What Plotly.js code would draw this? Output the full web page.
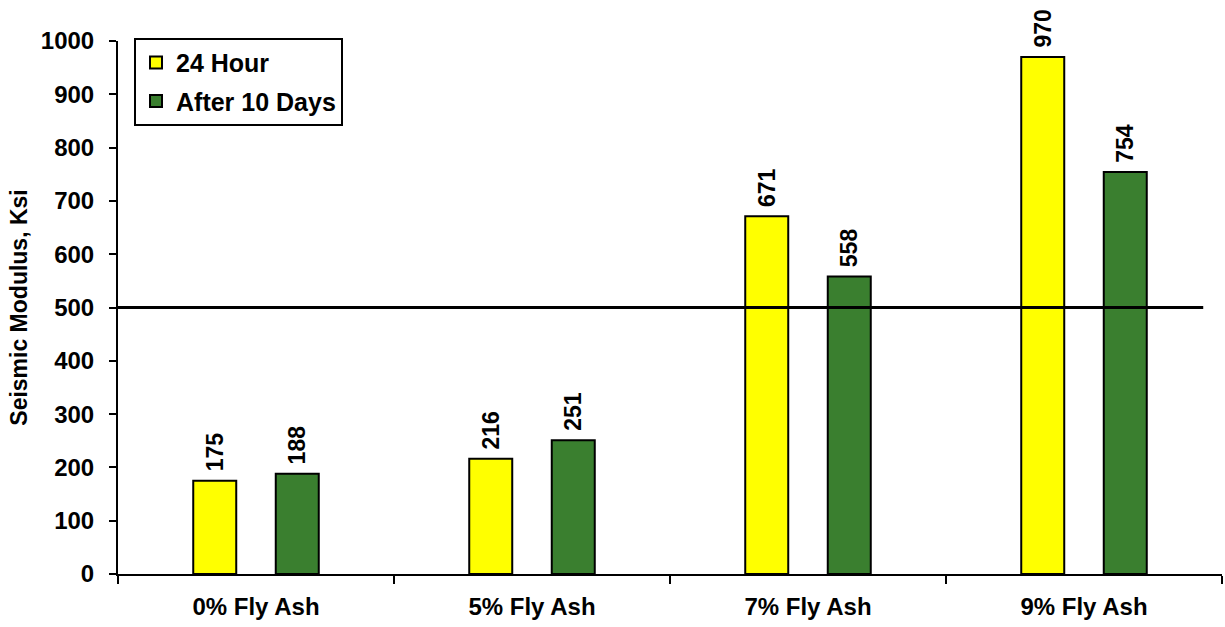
<!DOCTYPE html>
<html>
<head>
<meta charset="utf-8">
<script src="https://cdn.plot.ly/plotly-3.0.1.min.js"></script>
<style>
  html, body { margin: 0; padding: 0; background: #fff; }
  #chart { width: 1225px; height: 627px; }
</style>
</head>
<body>
<div id="chart"></div>
<script>
// Seismic modulus by fly ash content
const categories = ['0% Fly Ash', '5% Fly Ash', '7% Fly Ash', '9% Fly Ash'];
const hour24 = [175, 216, 671, 970];
const days10 = [188, 251, 558, 754];
const seriesNames = ['24 Hour', 'After 10 Days'];
const yTicks = [0, 100, 200, 300, 400, 500, 600, 700, 800, 900, 1000];
const thresholdKsi = 500;

const FONT = 'Liberation Sans, Arial, sans-serif';

function barTrace(name, values, color, group) {
  return {
    type: 'bar',
    name: name,
    x: categories,
    y: values,
    legendgroup: group,
    marker: { color: color, line: { color: '#000', width: 2 } },
    // leading no-break space keeps the value clear of the bar top
    text: values.map(v => '\u00a0' + v),
    textposition: 'outside',
    textangle: -90,
    constraintext: 'none',
    cliponaxis: false,
    textfont: { family: FONT, size: 23, color: '#000', weight: 'bold' },
    hoverinfo: 'x+y'
  };
}

const data = [
  barTrace(seriesNames[0], hour24, '#FFFF00', 'a'),
  barTrace(seriesNames[1], days10, '#3A7F2F', 'b')
];

const layout = {
  width: 1225,
  height: 627,
  margin: { l: 118, r: 3, t: 41, b: 53 },
  paper_bgcolor: '#fff',
  plot_bgcolor: '#fff',
  font: { family: FONT, color: '#000', size: 23, weight: 'bold' },
  barmode: 'group',
  bargap: 0.402,
  bargroupgap: 0.479,
  showlegend: true,
  legend: {
    x: 0.0145, y: 1.006, xanchor: 'left', yanchor: 'top',
    bgcolor: '#fff', bordercolor: '#000', borderwidth: 2,
    font: { family: FONT, size: 25, color: '#000', weight: 'bold' },
    traceorder: 'grouped',
    tracegroupgap: 3,
    itemwidth: 30
  },
  xaxis: {
    type: 'category',
    showline: true, linecolor: '#000', linewidth: 2,
    ticks: 'outside', tickson: 'boundaries', ticklen: 8, tickwidth: 2, tickcolor: '#000',
    ticklabelstandoff: 10,
    showgrid: false, zeroline: false,
    tickfont: { family: FONT, size: 24, color: '#000', weight: 'bold' }
  },
  yaxis: {
    range: [0, 1000],
    tickvals: yTicks,
    ticktext: yTicks.map(String),
    showline: true, linecolor: '#000', linewidth: 2,
    ticks: 'outside', ticklen: 7, tickwidth: 2, tickcolor: '#000',
    ticklabelstandoff: 10,
    showgrid: false, zeroline: false,
    tickfont: { family: FONT, size: 24, color: '#000', weight: 'bold' },
    title: { text: 'Seismic Modulus, Ksi', standoff: 7,
             font: { family: FONT, size: 23, color: '#000', weight: 'bold' } }
  },
  shapes: [{
    type: 'line', xref: 'paper', yref: 'y',
    x0: 0, x1: 0.983, y0: thresholdKsi, y1: thresholdKsi,
    line: { color: '#000', width: 3 }, layer: 'above'
  }]
};

Plotly.newPlot('chart', data, layout, { displayModeBar: false, staticPlot: true });
</script>
</body>
</html>
